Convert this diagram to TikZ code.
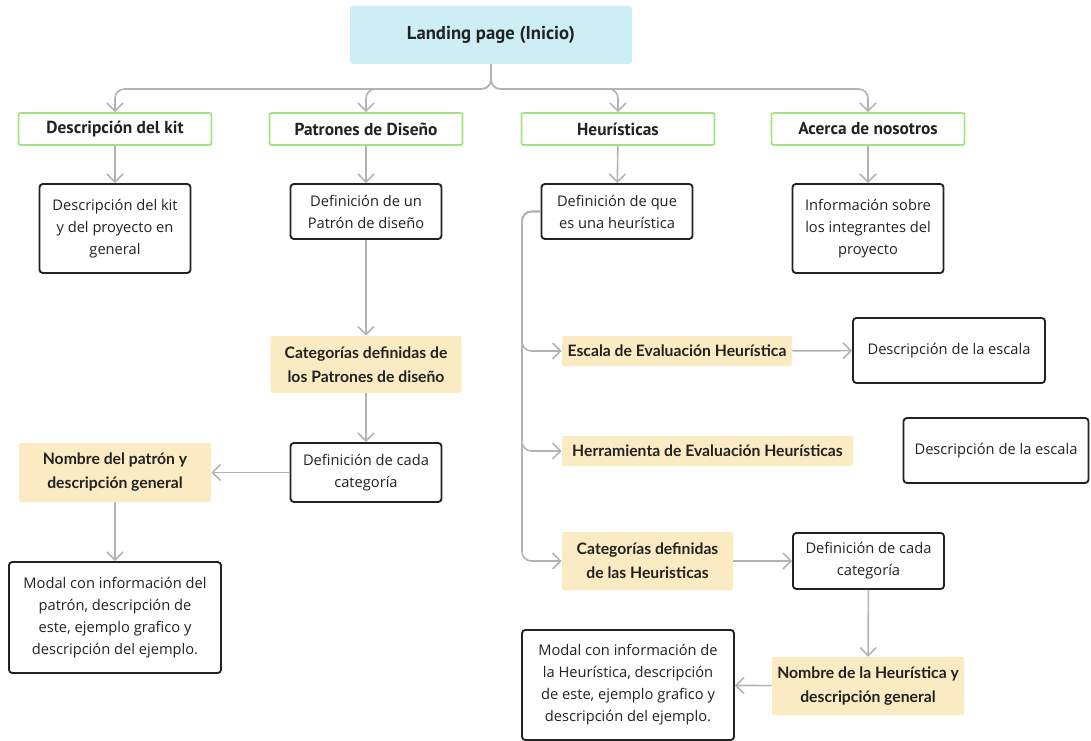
\documentclass[tikz,border=0pt]{standalone}
\usepackage{fontspec}
\setmainfont{Open Sans}
\newfontfamily\latofont{Lato}
\newfontfamily\headfont{PT Sans}
\usetikzlibrary{arrows.meta}

\definecolor{inicio}{HTML}{CDEEF5}
\definecolor{seccion}{HTML}{A3E283}
\definecolor{categoria}{HTML}{FBEBC3}
\definecolor{flecha}{HTML}{B3B3B3}
\definecolor{tinta}{HTML}{222222}

\begin{document}
\begin{tikzpicture}[x=0.75pt,y=-0.75pt,
  dims/.style 2 args={minimum width=#1*0.75pt,minimum height=#2*0.75pt},
  base/.style={inner sep=0pt,align=center,text=tinta},
  raiz/.style={base,fill=inicio,rounded corners=2pt,font=\headfont\bfseries\fontsize{14}{16}\selectfont},
  seccionbox/.style={base,draw=seccion,line width=1.4pt,fill=white,rounded corners=1.5pt,font=\headfont\bfseries\fontsize{13}{15}\selectfont},
  hoja/.style={base,draw=tinta,line width=1.4pt,fill=white,rounded corners=2.5pt,font=\fontsize{11}{16.5}\selectfont},
  cat/.style={base,fill=categoria,rounded corners=1.5pt,font=\latofont\bfseries\fontsize{11.8}{18}\selectfont},
  flujo/.style={draw=flecha,line width=1.2pt,rounded corners=7pt,-{Straight Barb[length=6pt,width=12pt]}}]
  \useasboundingbox (0,0) rectangle (1091,741);

  \node[raiz,dims={282}{58}] (landing) at (491,35) {Landing page (Inicio)};

  \node[seccionbox,dims={193}{32}] (hdesc) at (115,129) {Descripción del kit};
  \node[seccionbox,dims={193}{32}] (hpat) at (366,129) {Patrones de Diseño};
  \node[seccionbox,dims={193}{32}] (hheur) at (618,129) {Heurísticas};
  \node[seccionbox,dims={193}{32}] (hacerca) at (868,129) {Acerca de nosotros};

  \node[hoja,dims={151}{89}] (desckit) at (115,228.5) {Descripción del kit\\y del proyecto en\\general};
  \node[hoja,dims={151}{55}] (defpat) at (366,211.5) {Definición de un\\Patrón de diseño};
  \node[hoja,dims={151}{55}] (defheur) at (617,211.5) {Definición de que\\es una heurística};
  \node[hoja,dims={151}{89}] (info) at (868,228.5) {Información sobre\\los integrantes del\\proyecto};

  \node[cat,dims={191}{57}] (catpat) at (366,364.5) {Categorías definidas de\\los Patrones de diseño};
  \node[hoja,dims={151}{59}] (defcat) at (366,472.5) {Definición de cada\\categoría};
  \node[cat,dims={192}{59}] (nompat) at (115,472.5) {Nombre del patrón y\\descripción general};
  \node[hoja,dims={212}{111}] (modalpat) at (115,617.5) {Modal con información del\\patrón, descripción de\\este, ejemplo grafico y\\descripción del ejemplo.};

  \node[cat,dims={230}{30}] (escala) at (677,351) {Escala de Evaluación Heurística};
  \node[hoja,dims={192}{65}] (descesc) at (949,350.5) {Descripción de la escala};
  \node[cat,dims={291}{30}] (herr) at (707.5,451) {Herramienta de Evaluación Heurísticas};
  \node[hoja,dims={185}{65}] (descesc2) at (996,450.5) {Descripción de la escala};
  \node[cat,dims={171}{58}] (catheur) at (647.5,561) {Categorías definidas\\de las Heuristicas};
  \node[hoja,dims={151}{56}] (defcat2) at (868.5,561) {Definición de cada\\categoría};
  \node[cat,dims={192}{58}] (nomheur) at (868,686) {Nombre de la Heurística y\\descripción general};
  \node[hoja,dims={212}{110}] (modalheur) at (628,685) {Modal con información de\\la Heurística, descripción\\de este, ejemplo grafico y\\descripción del ejemplo.};

  \foreach \dest in {hdesc,hpat,hheur,hacerca}
    \draw[flujo] (landing.south) -- (491,89) -| (\dest.north);

  \draw[flujo] (hdesc) -- (desckit);
  \draw[flujo] (hpat) -- (defpat);
  \draw[flujo] (hheur) -- (defheur);
  \draw[flujo] (hacerca) -- (info);

  \draw[flujo] (defpat) -- (catpat);
  \draw[flujo] (catpat) -- (defcat);
  \draw[flujo] (defcat) -- (nompat);
  \draw[flujo] (nompat) -- (modalpat);

  \foreach \dest in {escala,herr,catheur}
    \draw[flujo] (defheur.west) -- (522,211.5) |- (\dest.west);
  \draw[flujo] (escala) -- (descesc);
  \draw[flujo] (catheur) -- (defcat2);
  \draw[flujo] (defcat2) -- (nomheur);
  \draw[flujo] (nomheur) -- (modalheur);
\end{tikzpicture}
\end{document}
